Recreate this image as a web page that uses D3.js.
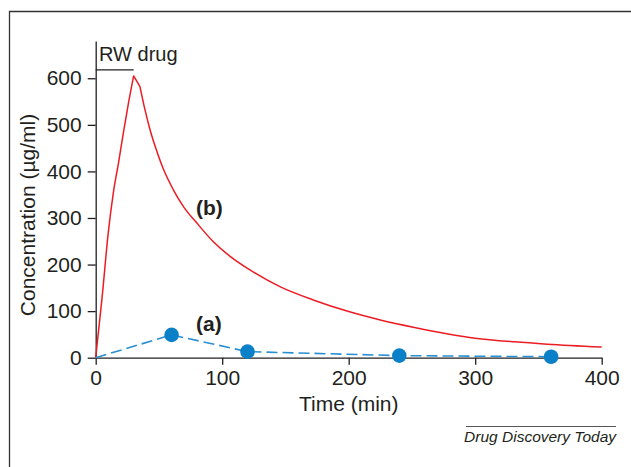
<!DOCTYPE html>
<html>
<head>
<meta charset="utf-8">
<script src="https://cdn.jsdelivr.net/npm/d3@7"></script>
<style>
  html, body { margin: 0; padding: 0; background: #fff; }
  svg text { font-family: "Liberation Sans", Arial, Helvetica, sans-serif; fill: #231f20; }
</style>
</head>
<body>
<svg id="chart" width="631" height="467"></svg>
<script>
  'use strict';

  // (b) RW drug, plasma concentration (ug/ml) against time (min)
  var timeB = [0, 5, 10, 14, 18, 22, 26, 30, 35, 39, 43, 48, 53.5, 61.5, 69.5, 80, 93, 106.5, 121, 146, 172, 200, 225, 252, 300, 331, 357, 400];
  var concB = [0, 128, 270, 355, 418, 485, 548, 605, 582, 532, 489, 446, 405, 360, 324, 289, 249, 217, 190, 152, 124, 99, 81, 65, 42, 34, 29, 23];

  // (a) measured points
  var timeA = [0, 60, 120, 240, 360];
  var concA = [0, 49, 13, 4.5, 2];

  var xTicks = [0, 100, 200, 300, 400];
  var yTicks = [0, 100, 200, 300, 400, 500, 600];

  // infusion period bar
  var rwStart = 0, rwEnd = 30, rwLevel = 618;

  var svg = d3.select('#chart');

  var x = d3.scaleLinear().domain([0, 400]).range([95.7, 601.7]);
  var y = d3.scaleLinear().domain([0, 680]).range([357.7, 41]);

  // frame (top and left edges only)
  svg.append('path')
      .attr('d', 'M9.5,467V11.5H631')
      .style('fill', 'none')
      .style('stroke', '#333')
      .style('stroke-width', 1.3);

  // axes
  var xAxis = svg.append('g')
      .attr('transform', 'translate(0,' + y(0) + ')')
      .call(d3.axisBottom(x).tickValues(xTicks).tickSize(7).tickSizeOuter(0).tickPadding(5.5));

  var yAxis = svg.append('g')
      .attr('transform', 'translate(' + x(0) + ',0)')
      .call(d3.axisLeft(y).tickValues(yTicks).tickSize(8).tickSizeOuter(0).tickPadding(6));

  [xAxis, yAxis].forEach(function(a){
    a.selectAll('path, line').style('stroke', '#231f20').style('stroke-width', 1.3);
    a.selectAll('text').style('font-size', '21px').style('fill', '#231f20');
  });

  // RW drug bar
  svg.append('line')
      .attr('x1', x(rwStart)).attr('x2', x(rwEnd))
      .attr('y1', y(rwLevel)).attr('y2', y(rwLevel))
      .style('stroke', '#231f20')
      .style('stroke-width', 1.3);

  svg.append('text')
      .attr('x', 99).attr('y', 61)
      .style('font-size', '20px')
      .text('RW drug');

  // curve (b): smooth rise, sharp peak, short shoulder, smooth decay
  var ptsB = timeB.map(function(t, i){ return [t, concB[i]]; });
  var peak = d3.maxIndex(concB);
  var lineLin = d3.line().x(function(d){ return x(d[0]); }).y(function(d){ return y(d[1]); });
  var lineSmooth = d3.line().curve(d3.curveMonotoneX).x(function(d){ return x(d[0]); }).y(function(d){ return y(d[1]); });

  var dB = lineSmooth(ptsB.slice(0, peak + 1)) +
      lineLin(ptsB.slice(peak, peak + 2)).replace(/^M/, 'L') +
      lineSmooth(ptsB.slice(peak + 1)).replace(/^M/, 'L');

  svg.append('path')
      .attr('d', dB)
      .style('fill', 'none')
      .style('stroke', '#ec1c24')
      .style('stroke-width', 1.5)
      .style('stroke-linejoin', 'round');

  // curve (a): dashed line with markers
  var ptsA = timeA.map(function(t, i){ return [t, concA[i]]; });
  svg.append('path')
      .attr('d', lineLin(ptsA))
      .style('fill', 'none')
      .style('stroke', '#2a8fd0')
      .style('stroke-width', 1.6)
      .style('stroke-dasharray', '11,5');

  svg.selectAll('.dot')
      .data(ptsA.slice(1))
      .enter().append('circle')
      .attr('class', 'dot')
      .attr('cx', function(d){ return x(d[0]); })
      .attr('cy', function(d){ return y(d[1]); })
      .attr('r', 7.3)
      .style('fill', '#0a80c8');

  // series labels
  svg.append('text')
      .attr('x', 196).attr('y', 215)
      .style('font-size', '21px').style('font-weight', 'bold')
      .text('(b)');

  svg.append('text')
      .attr('x', 196).attr('y', 331)
      .style('font-size', '21px').style('font-weight', 'bold')
      .text('(a)');

  // axis titles
  svg.append('text')
      .attr('x', (x(0) + x(400)) / 2).attr('y', 411)
      .style('font-size', '21px')
      .style('text-anchor', 'middle')
      .text('Time (min)');

  svg.append('text')
      .attr('transform', 'translate(35,215) rotate(-90)')
      .style('font-size', '21px')
      .style('text-anchor', 'middle')
      .text('Concentration (µg/ml)');

  // footer
  svg.append('line')
      .attr('x1', 466).attr('x2', 616)
      .attr('y1', 426.5).attr('y2', 426.5)
      .style('stroke', '#555')
      .style('stroke-width', 1);

  svg.append('text')
      .attr('x', 616).attr('y', 442)
      .style('font-size', '15.5px')
      .style('font-style', 'italic')
      .style('text-anchor', 'end')
      .text('Drug Discovery Today');
</script>
</body>
</html>
